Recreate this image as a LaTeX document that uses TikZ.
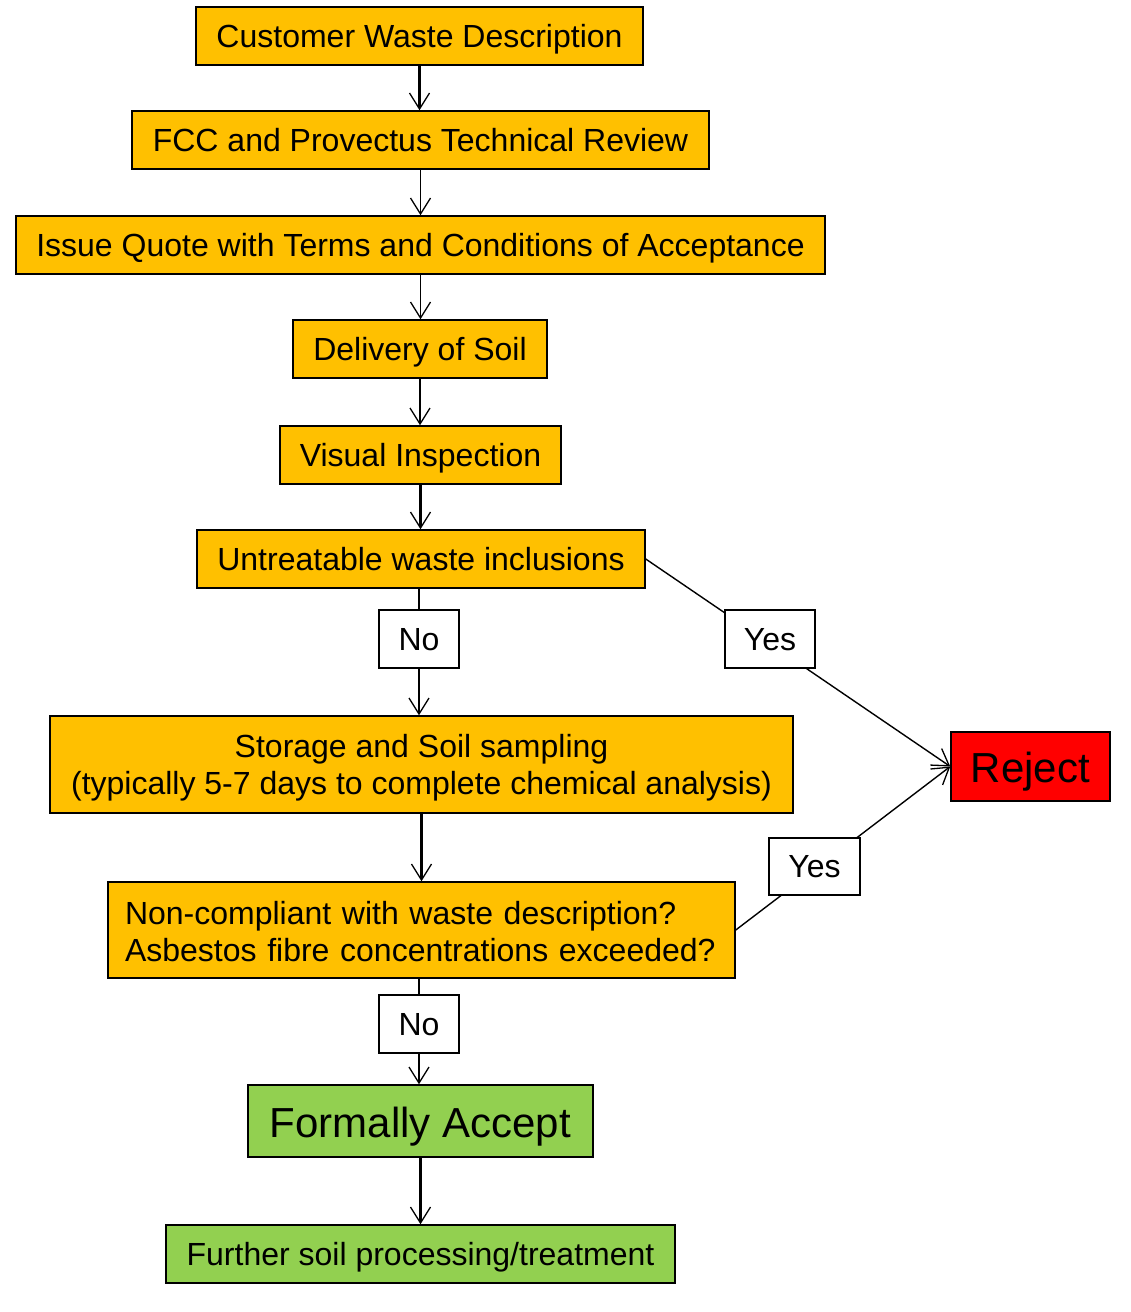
\documentclass[tikz,border=0pt]{standalone}
\usepackage{fontspec}
\setmainfont{Liberation Sans}
\usetikzlibrary{arrows.meta}
\definecolor{boxorange}{HTML}{FFC000}
\definecolor{boxgreen}{HTML}{92D050}
\definecolor{boxred}{HTML}{FF0000}
\newcommand{\twolines}[3]{\raisebox{#1}[\height][\depth]{\begin{tabular}{@{}#2@{}}#3\end{tabular}}}
\begin{document}
\begin{tikzpicture}[x=1pt,y=-1pt,
  fbox/.style={draw=black,line width=1.5pt,inner sep=0pt,font=\fontsize{32}{37}\selectfont},
  single/.style={text height=26pt,text depth=4pt},
  big/.style={font=\fontsize{42}{50}\selectfont,text height=36pt,text depth=4pt},
  obox/.style={fbox,fill=boxorange},
  gbox/.style={fbox,fill=boxgreen},
  lbl/.style={fbox,single,fill=white,line width=1.3pt},
  arr/.style={line width=1.4pt,-{Straight Barb[length=16pt,width=20pt,line width=1.3pt]}},
  arrthick/.style={arr,line width=2.2pt},
  plain/.style={line width=1.4pt},
  plainthick/.style={line width=2.2pt}]
\useasboundingbox (0,0) rectangle (1130,1312);
\fill[white] (0,0) rectangle (1130,1312);

\node[obox,single,minimum width=447pt,minimum height=58pt] (cwd) at (419.5,36) {Customer Waste Description};
\node[obox,single,minimum width=577pt,minimum height=58pt] (fcc) at (420.5,140) {FCC and Provectus Technical Review};
\node[obox,single,minimum width=809pt,minimum height=58pt] (quote) at (420.5,245) {Issue Quote with Terms and Conditions of Acceptance};
\node[obox,single,minimum width=254pt,minimum height=58pt] (deliv) at (420,349) {Delivery of Soil};
\node[obox,single,minimum width=281pt,minimum height=58pt] (vis) at (420.5,455) {Visual Inspection};
\node[obox,single,minimum width=448pt,minimum height=58pt] (untr) at (421,559) {Untreatable waste inclusions};
\node[obox,minimum width=743pt,minimum height=97pt] (store) at (421.5,764.5) {\twolines{-4pt}{c}{Storage and Soil sampling\\(typically 5-7 days to complete chemical analysis)}};
\node[fbox,big,fill=boxred,minimum width=159pt,minimum height=69pt] (rej) at (1030.5,766.5) {Reject};
\node[obox,minimum width=627pt,minimum height=96pt,text width=593pt] (nonc) at (421.5,930) {\twolines{-5.5pt}{l}{Non-compliant with waste description?\\Asbestos fibre concentrations exceeded?}};
\node[gbox,big,minimum width=345pt,minimum height=72pt] (acc) at (420.5,1121) {Formally Accept};
\node[gbox,single,minimum width=509pt,minimum height=58pt] (fur) at (420.5,1254) {Further soil processing/treatment};

\node[lbl,minimum width=80pt,minimum height=58pt] (no1) at (419,639) {No};
\node[lbl,minimum width=80pt,minimum height=58pt] (no2) at (419,1024) {No};

\draw[arrthick] (cwd.south) -- (cwd.south |- fcc.north);
\draw[arr] (fcc.south) -- (fcc.south |- quote.north);
\draw[arr] (quote.south) -- (quote.south |- deliv.north);
\draw[arr] (deliv.south) -- (deliv.south |- vis.north);
\draw[arrthick] (vis.south) -- (vis.south |- untr.north);
\draw[plainthick] (no1.north |- untr.south) -- (no1.north);
\draw[arrthick] (no1.south) -- (no1.south |- store.north);
\draw[arrthick] (store.south) -- (store.south |- nonc.north);
\draw[plain] (no2.north |- nonc.south) -- (no2.north);
\draw[arr] (no2.south) -- (no2.south |- acc.north);
\draw[arrthick] (acc.south) -- (acc.south |- fur.north);
\draw[arr] (untr.east) -- (rej.west);
\draw[arr] (nonc.east) -- (rej.west);

\node[lbl,minimum width=90pt,minimum height=58pt] (yes1) at (770,639) {Yes};
\node[lbl,minimum width=91pt,minimum height=57pt] (yes2) at (814.5,866.5) {Yes};
\end{tikzpicture}
\end{document}
